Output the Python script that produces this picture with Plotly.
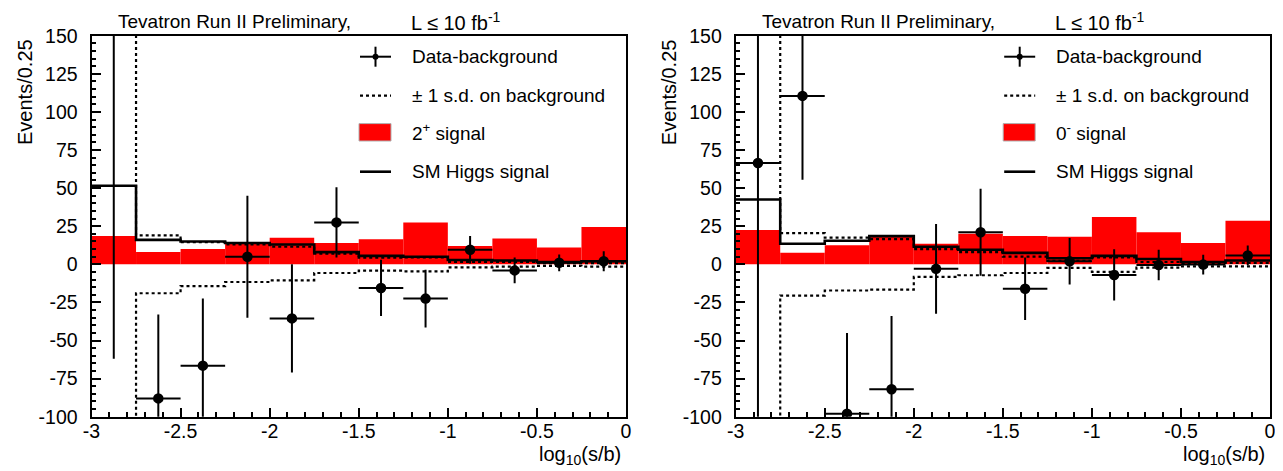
import plotly.graph_objects as go

# the page body adds an 8 px margin; the figure is sized to fit the 1283x471 window
PAGE_OFF = 8
W, H = 1283 - PAGE_OFF, 471 - PAGE_OFF

# ---------------- data ----------------
bin_edges = [-3.0, -2.75, -2.5, -2.25, -2.0, -1.75, -1.5, -1.25, -1.0, -0.75, -0.5, -0.25, 0.0]

# left panel: 2+ hypothesis
signal_2p = [18.5, 8, 10, 14, 17.5, 14, 16.5, 27.5, 12, 17, 11, 24.5]
sm_left = [51.5, 16, 15, 14, 13, 8, 5.5, 5, 2.8, 2.5, 1.5, 2]
bkg_up_left = [200, 19, 14.5, 13, 11.5, 7, 4.3, 4.6, 1.5, 1.5, 0.8, 0.8]
bkg_dn_left = [-200, -19, -14.3, -11.6, -10.5, -5.7, -4.2, -4.6, -2, -1.5, -1, -1.5]
data_left = [170, -88, -66.5, 5, -35.5, 27.5, -15.5, -22.5, 9.5, -4, 1, 2]
err_left = [232, 55, 44, 40, 35.5, 23, 18.5, 19, 9, 8.5, 5.5, 6.5]

# right panel: 0- hypothesis
signal_0m = [22.5, 7.5, 12.5, 19, 13.5, 20, 18.5, 18, 31, 21, 14, 28.5]
sm_right = [42.5, 13.5, 15.5, 18.5, 11.5, 9.5, 7.5, 4, 5.5, 3.5, 1.5, 2.5]
bkg_up_right = [200, 20.5, 17.5, 16.5, 10, 8, 5, 2.3, 4.5, 1.5, 1, 1]
bkg_dn_right = [-200, -20.5, -17.2, -16.6, -8.3, -7.2, -5.7, -2.4, -5, -2.2, -1.3, -1.3]
data_right = [66.5, 110.5, -98, -82, -3, 21, -16, 2, -7, -0.5, -0.2, 5.8]
err_right = [175, 55, 53, 48, 29.5, 28.5, 20.5, 15.3, 16.8, 10, 6.5, 6.5]

x_tick_vals = [-3, -2.5, -2, -1.5, -1, -0.5, 0]
x_tick_text = ["-3", "-2.5", "-2", "-1.5", "-1", "-0.5", "0"]
y_tick_vals = [-100, -75, -50, -25, 0, 25, 50, 75, 100, 125, 150]
y_tick_text = ["-100", "-75", "-50", "-25", "0", "25", "50", "75", "100", "125", "150"]

legend_labels_left = ["Data-background", "\u00b1 1 s.d. on background", "2<sup>+</sup> signal", "SM Higgs signal"]
legend_labels_right = ["Data-background", "\u00b1 1 s.d. on background", "0<sup>-</sup> signal", "SM Higgs signal"]
title_main = "Tevatron Run II Preliminary,"
title_lumi = "L \u2264 10 fb<sup>-1</sup>"
y_title = "Events/0.25"
x_title = "log<sub>10</sub>(s/b)"

FONT = "Liberation Sans, Arial, Helvetica, sans-serif"

centers = [(a + b) / 2 for a, b in zip(bin_edges[:-1], bin_edges[1:])]
widths = [b - a for a, b in zip(bin_edges[:-1], bin_edges[1:])]
half_w = widths[0] / 2


def step_y(vals):
    return list(vals) + [vals[-1]]


# panel frames in window pixels
panels = [
    dict(xa="x", ya="y", sig=signal_2p, sm=sm_left, up=bkg_up_left, dn=bkg_dn_left,
         data=data_left, err=err_left, labels=legend_labels_left, x0=91.5, x1=626.0),
    dict(xa="x2", ya="y2", sig=signal_0m, sm=sm_right, up=bkg_up_right, dn=bkg_dn_right,
         data=data_right, err=err_right, labels=legend_labels_right, x0=735.7, x1=1270.0),
]

Y_TOP, Y_BOT = 35.7, 416.7

fig = go.Figure()
shapes = []
annotations = []


def px(xs):
    return (xs - PAGE_OFF) / W


def py(ys):
    return 1 - (ys - PAGE_OFF) / H


for p in panels:
    fig.add_trace(go.Bar(x=centers, y=p["sig"], width=widths, base=0,
                         marker=dict(color="#ff0000", line=dict(width=0)),
                         xaxis=p["xa"], yaxis=p["ya"], showlegend=False, hoverinfo="skip"))
    for band in (p["up"], p["dn"]):
        fig.add_trace(go.Scatter(x=bin_edges, y=step_y(band), mode="lines",
                                 line=dict(shape="hv", color="black", width=2.2, dash="3px,3px"),
                                 xaxis=p["xa"], yaxis=p["ya"], showlegend=False, hoverinfo="skip"))
    fig.add_trace(go.Scatter(x=bin_edges, y=step_y(p["sm"]), mode="lines",
                             line=dict(shape="hv", color="black", width=2.6),
                             xaxis=p["xa"], yaxis=p["ya"], showlegend=False, hoverinfo="skip"))
    fig.add_trace(go.Scatter(x=centers, y=p["data"], mode="markers",
                             marker=dict(color="black", size=10.5, symbol="circle"),
                             error_y=dict(type="data", array=p["err"], color="black", thickness=2, width=0),
                             error_x=dict(type="constant", value=half_w, color="black", thickness=2, width=0),
                             xaxis=p["xa"], yaxis=p["ya"], showlegend=False))

    # ---- legend (drawn manually, ROOT style) ----
    off = p["x0"] - 91.5
    sx0, sx1 = 360 + off, 391 + off
    sxm = (sx0 + sx1) / 2
    tx = 410 + off
    rows = [56.7, 95.7, 132.3, 171.7]
    shapes.append(dict(type="line", xref="paper", yref="paper", x0=px(sx0), x1=px(sx1),
                       y0=py(rows[0]), y1=py(rows[0]), line=dict(color="black", width=2)))
    shapes.append(dict(type="line", xref="paper", yref="paper", x0=px(sxm), x1=px(sxm),
                       y0=py(rows[0] - 10), y1=py(rows[0] + 10), line=dict(color="black", width=2)))
    shapes.append(dict(type="circle", xref="paper", yref="paper", x0=px(sxm - 3), x1=px(sxm + 3),
                       y0=py(rows[0] - 3), y1=py(rows[0] + 3), fillcolor="black", line=dict(width=0)))
    shapes.append(dict(type="line", xref="paper", yref="paper", x0=px(sx0), x1=px(sx1),
                       y0=py(rows[1]), y1=py(rows[1]), line=dict(color="black", width=2.2, dash="3px,3px")))
    shapes.append(dict(type="rect", xref="paper", yref="paper", x0=px(sx0 - 1), x1=px(sx1),
                       y0=py(rows[2] - 8.7), y1=py(rows[2] + 8.7), fillcolor="#ff0000",
                       line=dict(color="#b0b0b0", width=1)))
    shapes.append(dict(type="line", xref="paper", yref="paper", x0=px(sx0), x1=px(sx1),
                       y0=py(rows[3]), y1=py(rows[3]), line=dict(color="black", width=2.6)))
    for r, lab in zip(rows, p["labels"]):
        annotations.append(dict(text=lab, xref="paper", yref="paper", x=px(tx), y=py(r),
                                xanchor="left", yanchor="middle", showarrow=False,
                                font=dict(family=FONT, size=19, color="black")))

    # ---- titles ----
    annotations.append(dict(text=title_main, xref="paper", yref="paper", x=px(353 + off), y=py(21),
                            xanchor="right", yanchor="middle", showarrow=False,
                            font=dict(family=FONT, size=19, color="black")))
    annotations.append(dict(text=title_lumi, xref="paper", yref="paper", x=px(409 + off), y=py(21),
                            xanchor="left", yanchor="middle", showarrow=False,
                            font=dict(family=FONT, size=20, color="black")))
    annotations.append(dict(text=y_title, xref="paper", yref="paper", x=px(25 + off), y=py(37),
                            xanchor="center", yanchor="top", textangle=-90, showarrow=False,
                            font=dict(family=FONT, size=20, color="black")))
    annotations.append(dict(text=x_title, xref="paper", yref="paper", x=px(p["x1"] - 3), y=py(470),
                            xanchor="right", yanchor="bottom", showarrow=False,
                            font=dict(family=FONT, size=20, color="black")))

axis_common = dict(showline=True, linewidth=2, linecolor="black", mirror=True,
                   showgrid=False, zeroline=False, ticks="inside", tickcolor="black",
                   tickwidth=1.5, ticklen=9, automargin=False,
                   tickfont=dict(family=FONT, size=19.5, color="black"))

layout = dict(
    width=W, height=H, autosize=False,
    margin=dict(l=0, r=0, t=0, b=0, pad=0, autoexpand=False),
    paper_bgcolor="white", plot_bgcolor="white",
    showlegend=False, barmode="overlay",
    shapes=shapes, annotations=annotations,
)
for p in panels:
    xkey = "xaxis" if p["xa"] == "x" else "xaxis2"
    ykey = "yaxis" if p["ya"] == "y" else "yaxis2"
    layout[xkey] = dict(domain=[px(p["x0"]), px(p["x1"])], range=[-3, 0], anchor=p["ya"],
                        tickmode="array", tickvals=x_tick_vals, ticktext=x_tick_text,
                        minor=dict(ticks="inside", ticklen=4.5, tickwidth=1.5, tickcolor="black",
                                   tickmode="linear", tick0=0, dtick=0.1, showgrid=False),
                        ticklabelstandoff=-4,
                        **axis_common)
    layout[ykey] = dict(domain=[py(Y_BOT), py(Y_TOP)], range=[-100, 150], anchor=p["xa"],
                        tickmode="array", tickvals=y_tick_vals, ticktext=y_tick_text,
                        minor=dict(ticks="inside", ticklen=4.5, tickwidth=1.5, tickcolor="black",
                                   tickmode="linear", tick0=0, dtick=5, showgrid=False),
                        ticklabelstandoff=8,
                        **axis_common)

fig.update_layout(**layout)
fig.write_html("out.html", config={"responsive": False})
